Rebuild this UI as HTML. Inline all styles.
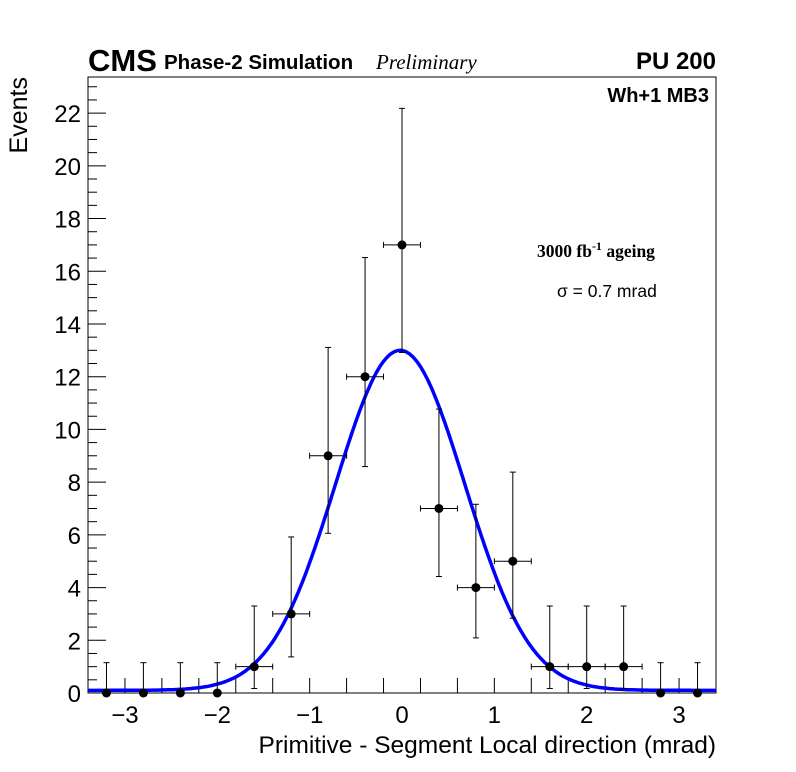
<!DOCTYPE html>
<html><head><meta charset="utf-8"><style>
body{margin:0;background:#fff;}
svg{display:block;font-family:"Liberation Sans",sans-serif;}
</style></head><body>
<svg id="chart" width="796" height="772" viewBox="0 0 796 772">
<rect x="0" y="0" width="796" height="772" fill="#fff"/>
<g id="frame-g"></g>
<text x="88" y="71" font-size="31" font-weight="bold">CMS</text>
<text x="164" y="69" font-size="20.5" font-weight="bold">Phase-2 Simulation</text>
<text x="376" y="69" font-size="21" font-style="italic" font-family="Liberation Serif,serif">Preliminary</text>
<text x="716" y="69" font-size="24" font-weight="bold" text-anchor="end">PU 200</text>
<text x="709" y="102" font-size="20" font-weight="bold" text-anchor="end">Wh+1 MB3</text>
<text x="537" y="257" font-size="17.5" font-weight="bold" font-family="Liberation Serif,serif">3000 fb<tspan dy="-7" font-size="12">-1</tspan><tspan dy="7"> ageing</tspan></text>
<text x="557" y="297" font-size="17.5">σ = 0.7 mrad</text>
<text x="716" y="753" font-size="24.5" text-anchor="end">Primitive - Segment Local direction (mrad)</text>
<text x="0" y="0" font-size="25" text-anchor="end" transform="translate(27,77) rotate(-90)">Events</text>
</svg>
<script>
const binCenters=[-3.2,-2.8,-2.4,-2.0,-1.6,-1.2,-0.8,-0.4,0,0.4,0.8,1.2,1.6,2.0,2.4,2.8,3.2];
const counts=[0,0,0,0,1,3,9,12,17,7,4,5,1,1,1,0,0];
const errLow=[0,0,0,0,0.83,1.63,2.94,3.41,4.08,2.58,1.91,2.16,0.83,0.83,0.83,0,0];
const errHigh=[1.15,1.15,1.15,1.15,2.3,2.92,4.11,4.52,5.18,3.77,3.16,3.38,2.3,2.3,2.3,1.15,1.15];
const fitParams=[12.9,-0.02,0.7,0.1]; // amplitude, mean, sigma, constant
const xTicks=[-3,-2,-1,0,1,2,3];
const yTicks=[0,2,4,6,8,10,12,14,16,18,20,22];
const L=88,R=716,T=77,B=693,xmin=-3.4,xmax=3.4,ymin=0,ymax=23.37;
const X=v=>L+(v-xmin)/(xmax-xmin)*(R-L);
const Y=v=>B-(v-ymin)/(ymax-ymin)*(B-T);
const NS="http://www.w3.org/2000/svg";
const svg=document.getElementById('chart');
const g=document.getElementById('frame-g');
function mk(tag,attrs,parent){const e=document.createElementNS(NS,tag);for(const k in attrs)e.setAttribute(k,attrs[k]);(parent||svg).appendChild(e);return e;}
const fr=mk('rect',{x:L,y:T,width:R-L,height:B-T,fill:'none',stroke:'#000','stroke-width':1},g);


for(let v=0;v<=23.3;v+=0.5){const major=Math.abs(v%2)<1e-6;const len=major?18:9;
const t=mk('line',{x1:L,x2:L+len,y1:Y(v),y2:Y(v),stroke:'#000'},g);

}
yTicks.forEach(v=>{const t=mk('text',{x:L-7,y:Y(v)+9,'font-size':24,'text-anchor':'end'});t.textContent=v;

});
for(let v=-3.0;v<3.2;v+=0.4){const t=mk('line',{x1:X(v),x2:X(v),y1:B,y2:B-15,stroke:'#000'},g);

}
xTicks.forEach(v=>{const t=mk('text',{x:X(v),y:B+30,'font-size':24,'text-anchor':'middle'});t.textContent=(v<0?'\u2212'+(-v):v);

});
let d='';for(let i=0;i<=340;i++){const x=xmin+(xmax-xmin)*i/340;const [a,m,s,c]=fitParams;const y=a*Math.exp(-0.5*((x-m)/s)**2)+c;d+=(i?'L':'M')+X(x).toFixed(1)+','+Y(y).toFixed(1);}
const fc=mk('path',{d:d,fill:'none',stroke:'#0000ff','stroke-width':3.5});


binCenters.forEach((c,i)=>{const grp=mk('g',{});


const v=counts[i];
mk('line',{x1:X(c),x2:X(c),y1:Y(v-errLow[i]),y2:Y(v+errHigh[i]),stroke:'#000'},grp);
mk('line',{x1:X(c)-3,x2:X(c)+3,y1:Y(v+errHigh[i]),y2:Y(v+errHigh[i]),stroke:'#000'},grp);
if(errLow[i]>0)mk('line',{x1:X(c)-3,x2:X(c)+3,y1:Y(v-errLow[i]),y2:Y(v-errLow[i]),stroke:'#000'},grp);
if(v>0){mk('line',{x1:X(c-0.2),x2:X(c+0.2),y1:Y(v),y2:Y(v),stroke:'#000'},grp);
mk('line',{x1:X(c-0.2),x2:X(c-0.2),y1:Y(v)-3,y2:Y(v)+3,stroke:'#000'},grp);
mk('line',{x1:X(c+0.2),x2:X(c+0.2),y1:Y(v)-3,y2:Y(v)+3,stroke:'#000'},grp);}
mk('circle',{cx:X(c),cy:Y(v),r:4.5,fill:'#000'},grp);});
</script>
</body></html>
